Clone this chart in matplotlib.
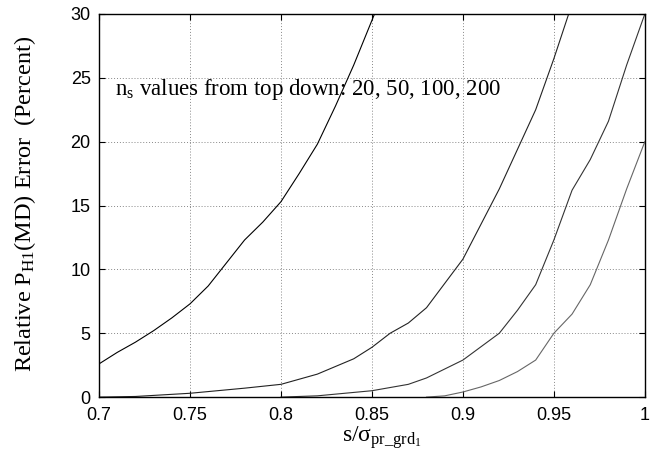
import numpy as np
import matplotlib
matplotlib.use("Agg")
import matplotlib.pyplot as plt

plt.rcParams['font.family'] = ['Liberation Sans', 'DejaVu Sans']

# error curves, ns = 20, 50, 100, 200
x20 = [0.70, 0.71, 0.72, 0.73, 0.74, 0.75, 0.76, 0.77, 0.78, 0.79, 0.80,
       0.81, 0.82, 0.83, 0.84, 0.85, 0.86]
y20 = [2.6, 3.5, 4.3, 5.2, 6.2, 7.3, 8.7, 10.5, 12.3, 13.7, 15.3,
       17.5, 19.8, 22.8, 26.0, 29.5, 33.0]

x50 = [0.70, 0.72, 0.75, 0.78, 0.80, 0.82, 0.84, 0.85, 0.86, 0.87, 0.88,
       0.90, 0.92, 0.94, 0.95, 0.96]
y50 = [0.0, 0.05, 0.3, 0.7, 1.0, 1.8, 3.0, 3.9, 5.0, 5.8, 7.0,
       10.8, 16.3, 22.5, 26.5, 30.8]

x100 = [0.80, 0.82, 0.85, 0.87, 0.88, 0.90, 0.92, 0.93, 0.94, 0.95, 0.96,
        0.97, 0.98, 0.99, 1.00]
y100 = [0.0, 0.1, 0.5, 1.0, 1.5, 2.9, 5.0, 6.8, 8.8, 12.3, 16.2,
        18.6, 21.6, 26.0, 30.0]

x200 = [0.88, 0.89, 0.90, 0.91, 0.92, 0.93, 0.94, 0.95, 0.96, 0.97, 0.98,
        0.99, 1.00]
y200 = [0.0, 0.1, 0.4, 0.8, 1.3, 2.0, 2.9, 5.0, 6.5, 8.8, 12.3, 16.3, 20.0]

fig = plt.figure(figsize=(6.54, 4.65), dpi=100)
ax = fig.add_axes([0.1514, 0.146, 0.8346, 0.824])

ax.plot(x20, y20, color='black', lw=0.8)
ax.plot(x50, y50, color='#222222', lw=0.8)
ax.plot(x100, y100, color='#333333', lw=0.8)
ax.plot(x200, y200, color='#666666', lw=0.8)

ax.set_xlim(0.7, 1.0)
ax.set_ylim(0, 30)
ax.set_xticks([0.7, 0.75, 0.8, 0.85, 0.9, 0.95, 1.0])
ax.set_xticklabels(['0.7', '0.75', '0.8', '0.85', '0.9', '0.95', '1'])
ax.set_yticks([0, 5, 10, 15, 20, 25, 30])
ax.tick_params(direction='in', top=True, right=True, labelsize=13, length=4)
ax.tick_params(axis='x', pad=7)
ax.tick_params(axis='y', pad=6)
ax.grid(True, color='#888888', ls=(0, (1, 2)), lw=0.7)
for s in ax.spines.values():
    s.set_linewidth(1.0)

serif = ['Liberation Serif', 'DejaVu Serif']
ax.set_xlabel(r's/$\mathregular{\sigma_{pr\_grd_1}}$', family=serif,
              fontsize=17)
ax.xaxis.set_label_coords(0.518, -0.072)
ax.set_ylabel(r'Relative P$\mathregular{_{H1}}$(MD) Error  (Percent)',
              family=serif, fontsize=17.5)
ax.yaxis.set_label_coords(-0.112, 0.505)

ax.text(0.709, 23.65, r'n$\mathregular{_s}$ values from top down: 20, 50, 100, 200',
        family=serif, fontsize=16.5)

fig.savefig('out.png', dpi=100)
